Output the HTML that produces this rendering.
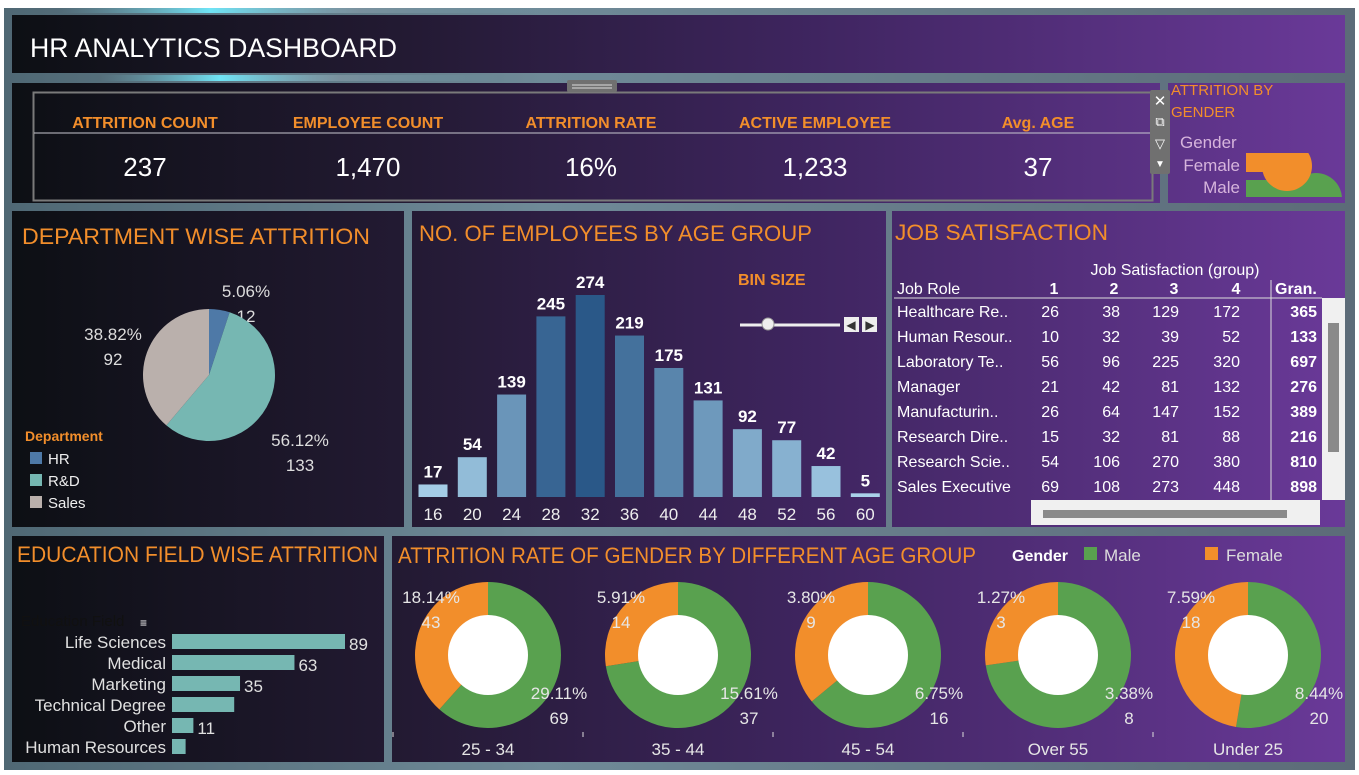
<!DOCTYPE html>
<html><head><meta charset="utf-8"><title>HR Analytics Dashboard</title>
<style>
html,body{margin:0;padding:0;width:1359px;height:775px;overflow:hidden;background:#fff;}
svg{display:block;font-family:"Liberation Sans",sans-serif;}
</style></head>
<body>
<svg id="dash" width="1359" height="775" viewBox="0 0 1359 775" xmlns="http://www.w3.org/2000/svg">
<defs>
<linearGradient id="bgG" x1="0" y1="0" x2="1" y2="0">
<stop offset="0" stop-color="#4f6874"/><stop offset="0.4" stop-color="#6f8a98"/><stop offset="1" stop-color="#5c6b78"/>
</linearGradient>
<linearGradient id="panelG" gradientUnits="userSpaceOnUse" x1="0" y1="0" x2="1359" y2="0">
<stop offset="0" stop-color="#0c0f13"/><stop offset="0.3" stop-color="#231a33"/><stop offset="0.6" stop-color="#3f2560"/><stop offset="1" stop-color="#6b3a9a"/>
</linearGradient>
<linearGradient id="cyanG" x1="0" y1="0" x2="1" y2="0">
<stop offset="0" stop-color="#6fa7b6" stop-opacity="0"/><stop offset="0.3" stop-color="#6fe4f6"/><stop offset="0.6" stop-color="#8fa3b0" stop-opacity="0.5"/><stop offset="1" stop-color="#6fa7b6" stop-opacity="0"/>
</linearGradient>
</defs>
<rect x="0" y="0" width="1359" height="775" fill="#ffffff"/>
<rect x="4" y="8" width="1351" height="762" fill="url(#bgG)"/>
<rect x="60" y="8" width="500" height="5" fill="url(#cyanG)"/>
<rect x="100" y="75" width="400" height="6" fill="url(#cyanG)"/>

<g>
<rect x="12" y="15" width="1333" height="58" fill="url(#panelG)"/>
<text x="30" y="57" fill="#ffffff" font-size="27" textLength="367" lengthAdjust="spacingAndGlyphs">HR ANALYTICS DASHBOARD</text>
</g>

<g>
<rect x="12" y="83" width="1148" height="120" fill="url(#panelG)"/>
<rect x="33.5" y="92.5" width="1119" height="108" fill="none" stroke="#7a7a7a" stroke-width="2"/>
<line x1="34" y1="133" x2="1151" y2="133" stroke="#c8c8d0" stroke-width="1"/>
<rect x="567" y="80" width="50" height="12" rx="2" fill="#707070"/>
<line x1="572" y1="85" x2="612" y2="85" stroke="#ddd"/><line x1="572" y1="88" x2="612" y2="88" stroke="#ddd"/>
<g id="kpis"></g>
</g>

<g>
<rect x="1168" y="83" width="177" height="120" fill="url(#panelG)"/>
<rect x="1150" y="90" width="20" height="84" rx="2" fill="#707070"/>
<text x="1160" y="106" fill="#fff" font-size="15" text-anchor="middle">✕</text>
<text x="1160" y="126" fill="#fff" font-size="13" text-anchor="middle">⧉</text>
<text x="1160" y="148" fill="#fff" font-size="13" text-anchor="middle">▽</text>
<text x="1160" y="167" fill="#fff" font-size="10" text-anchor="middle">▼</text>
<text x="1171" y="95" fill="#f28e2b" font-size="15">ATTRITION BY</text>
<text x="1171" y="117" fill="#f28e2b" font-size="15">GENDER</text>
<text x="1180" y="148" fill="#d6b4dc" font-size="17">Gender</text>
<text x="1240" y="171" fill="#d6b4dc" font-size="17" text-anchor="end">Female</text>
<text x="1240" y="193" fill="#d6b4dc" font-size="17" text-anchor="end">Male</text>
<clipPath id="gclip"><rect x="1168" y="153" width="177" height="44"/></clipPath>
<g clip-path="url(#gclip)">
<rect x="1246" y="180" width="70" height="17" fill="#59a14f"/>
<circle cx="1316" cy="199" r="26" fill="#59a14f"/>
<rect x="1246" y="153" width="30" height="19" fill="#f28e2b"/>
<circle cx="1287" cy="166" r="25" fill="#f28e2b"/>
</g>
</g>

<g>
<rect x="12" y="211" width="392" height="316" fill="url(#panelG)"/>
<text x="22" y="244" fill="#f28e2b" font-size="22" textLength="348" lengthAdjust="spacingAndGlyphs">DEPARTMENT WISE ATTRITION</text>
<g id="pie"></g>
<text x="25" y="441" fill="#f28e2b" font-size="14" font-weight="bold">Department</text>
<g id="pieLegend"></g>
</g>

<g>
<rect x="412" y="211" width="474" height="316" fill="url(#panelG)"/>
<text x="419" y="241" fill="#f28e2b" font-size="22" textLength="393" lengthAdjust="spacingAndGlyphs">NO. OF EMPLOYEES BY AGE GROUP</text>
<text x="738" y="285" fill="#f28e2b" font-size="16" font-weight="bold">BIN SIZE</text>
<line x1="740" y1="325" x2="840" y2="325" stroke="#eee" stroke-width="3"/>
<circle cx="768" cy="324" r="6" fill="#eee" stroke="#999"/>
<rect x="844" y="317" width="15" height="15" fill="#eee"/>
<text x="851" y="329" font-size="12" text-anchor="middle" fill="#333">◀</text>
<rect x="862" y="317" width="15" height="15" fill="#eee"/>
<text x="870" y="329" font-size="12" text-anchor="middle" fill="#333">▶</text>
<g id="ageBars"></g>
</g>

<g>
<rect x="892" y="211" width="453" height="316" fill="url(#panelG)"/>
<text x="895" y="240" fill="#f28e2b" font-size="22" textLength="213" lengthAdjust="spacingAndGlyphs">JOB SATISFACTION</text>
<text x="1175" y="275" fill="#fff" font-size="16" text-anchor="middle">Job Satisfaction (group)</text>
<text x="897" y="294" fill="#fff" font-size="16">Job Role</text>
<g id="jobTable"></g>
<line x1="894" y1="298" x2="1322" y2="298" stroke="#ddd"/>
<line x1="1271" y1="280" x2="1271" y2="500" stroke="#ddd"/>
<rect x="1322" y="298" width="23" height="202" fill="#f0f0f0"/>
<rect x="1328" y="323" width="11" height="129" fill="#8a8a8a"/>
<rect x="1031" y="500" width="289" height="25" fill="#f0f0f0"/>
<rect x="1043" y="510" width="244" height="8" fill="#8a8a8a"/>
</g>

<g>
<rect x="12" y="536" width="372" height="226" fill="url(#panelG)"/>
<text x="17" y="562" fill="#f28e2b" font-size="22" textLength="361" lengthAdjust="spacingAndGlyphs">EDUCATION FIELD WISE ATTRITION</text>
<text x="21" y="626" fill="#111" font-size="15">Education Field</text>
<text x="140" y="627" fill="#fff" font-size="12">≡</text>
<g id="eduBars"></g>
</g>

<g>
<rect x="392" y="536" width="953" height="226" fill="url(#panelG)"/>
<text x="398" y="563" fill="#f28e2b" font-size="22" textLength="578" lengthAdjust="spacingAndGlyphs">ATTRITION RATE OF GENDER BY DIFFERENT AGE GROUP</text>
<text x="1012" y="561" fill="#fff" font-size="16" font-weight="bold">Gender</text>
<rect x="1084" y="547" width="13" height="13" fill="#59a14f"/>
<text x="1104" y="561" fill="#ddd" font-size="17">Male</text>
<rect x="1205" y="547" width="13" height="13" fill="#f28e2b"/>
<text x="1226" y="561" fill="#ddd" font-size="17">Female</text>
<g id="donuts"></g>
</g>
</svg>

<script>
var NS="http://www.w3.org/2000/svg";
function mk(tag,attrs,parent,txt){var e=document.createElementNS(NS,tag);for(var k in attrs)e.setAttribute(k,attrs[k]);if(txt!==undefined)e.textContent=txt;parent.appendChild(e);return e;}

var kpiLabels=["ATTRITION COUNT","EMPLOYEE COUNT","ATTRITION RATE","ACTIVE EMPLOYEE","Avg. AGE"];
var kpiValues=["237","1,470","16%","1,233","37"];
var kpiX=[145,368,591,815,1038];
var kg=document.getElementById("kpis");
for(var i=0;i<kpiLabels.length;i++){
  var t=mk("text",{x:kpiX[i],y:128,fill:"#f28e2b","font-size":16,"font-weight":"bold","text-anchor":"middle"},kg,kpiLabels[i]);
  
  
  var v=mk("text",{x:kpiX[i],y:176,fill:"#fff","font-size":26,"text-anchor":"middle"},kg,kpiValues[i]);
  
  
}

var deptNames=["HR","R&D","Sales"];
var deptValues=[12,133,92];
var deptPct=["5.06%","56.12%","38.82%"];
var deptColors=["#4e79a7","#76b7b2","#bab0ac"];
(function(){
  var g=document.getElementById("pie"),cx=209,cy=375,r=66,tot=0;
  deptValues.forEach(function(v){tot+=v;});
  var a0=0;
  var labelPos=[[246,297],[300,446],[113,340]];
  for(var i=0;i<deptValues.length;i++){
    var a1=a0+deptValues[i]/tot*Math.PI*2;
    var x0=cx+r*Math.sin(a0),y0=cy-r*Math.cos(a0),x1=cx+r*Math.sin(a1),y1=cy-r*Math.cos(a1);
    var p=mk("path",{d:"M"+cx+","+cy+"L"+x0+","+y0+"A"+r+","+r+" 0 "+((a1-a0)>Math.PI?1:0)+" 1 "+x1+","+y1+"Z",fill:deptColors[i]},g);
    
    
    var lp=labelPos[i];
    var l=mk("text",{x:lp[0],y:lp[1],fill:"#ddd","font-size":17,"text-anchor":"middle"},g,deptPct[i]);
    
    
    mk("text",{x:lp[0],y:lp[1]+25,fill:"#ddd","font-size":17,"text-anchor":"middle"},g,deptValues[i]);
    a0=a1;
  }
  var lg=document.getElementById("pieLegend");
  for(var j=0;j<deptNames.length;j++){
    var s=mk("rect",{x:30,y:452+j*22,width:12,height:12,fill:deptColors[j]},lg);
    
    
    var lt=mk("text",{x:48,y:464+j*22,fill:"#eee","font-size":15},lg,deptNames[j]);
    
    
  }
})();

var ageBins=[16,20,24,28,32,36,40,44,48,52,56,60];
var ageCounts=[17,54,139,245,274,219,175,131,92,77,42,5];
(function(){
  var g=document.getElementById("ageBars");
  var base=497,maxV=274,maxH=202,x0=433,step=39.3,bw=29;
  function yS(v){return v/maxV*maxH;}
  function col(v){var t=v/maxV;var c1=[172,212,236],c2=[42,88,136];return "rgb("+c1.map(function(c,k){return Math.round(c+(c2[k]-c)*t);}).join(",")+")";}
  for(var i=0;i<ageBins.length;i++){
    var cx=x0+i*step,h=yS(ageCounts[i]);
    var b=mk("rect",{x:cx-bw/2,y:base-h,width:bw,height:h,fill:col(ageCounts[i])},g);
    
    
    var lt=mk("text",{x:cx,y:base-h-7,fill:"#fff","font-size":17,"font-weight":"bold","text-anchor":"middle"},g,ageCounts[i]);
    
    
    var xt=mk("text",{x:cx,y:520,fill:"#eee","font-size":17,"text-anchor":"middle"},g,ageBins[i]);
    
    
  }
})();

var jobRoles=["Healthcare Re..","Human Resour..","Laboratory Te..","Manager","Manufacturin..","Research Dire..","Research Scie..","Sales Executive"];
var jsCol1=[26,10,56,21,26,15,54,69];
var jsCol2=[38,32,96,42,64,32,106,108];
var jsCol3=[129,39,225,81,147,81,270,273];
var jsCol4=[172,52,320,132,152,88,380,448];
var jsHeaders=["1","2","3","4","Gran."];
(function(){
  var g=document.getElementById("jobTable");
  var colX=[1059,1120,1179,1240,1317];
  var hx=[1054,1114,1174,1236,1275];
  for(var h=0;h<jsHeaders.length;h++){
    var ht=mk("text",{x:hx[h],y:294,fill:"#fff","font-size":16,"font-weight":"bold","text-anchor":h<4?"middle":"start"},g,jsHeaders[h]);
    
    
  }
  for(var i=0;i<jobRoles.length;i++){
    var y=317+i*25;
    var rn=mk("text",{x:897,y:y,fill:"#fff","font-size":16},g,jobRoles[i]);
    
    
    var vals=[jsCol1[i],jsCol2[i],jsCol3[i],jsCol4[i]];
    var tot=vals[0]+vals[1]+vals[2]+vals[3];
    vals.push(tot);
    for(var c=0;c<5;c++){
      var ct=mk("text",{x:colX[c],y:y,fill:"#fff","font-size":16,"font-weight":c==4?"bold":"normal","text-anchor":"end"},g,vals[c]);
      
      
    }
  }
})();

var eduFields=["Life Sciences","Medical","Marketing","Technical Degree","Other","Human Resources"];
var eduValues=[89,63,35,32,11,7];
var eduShowLabel=[true,true,true,false,true,false];
(function(){
  var g=document.getElementById("eduBars");
  var x0=172,scale=173/89,y0=642,step=21;
  for(var i=0;i<eduFields.length;i++){
    var cy=y0+i*step,w=eduValues[i]*scale;
    var l=mk("text",{x:166,y:cy+6,fill:"#e0e0e0","font-size":17,"text-anchor":"end"},g,eduFields[i]);
    
    
    var b=mk("rect",{x:x0,y:cy-8,width:w,height:15,fill:"#76b7b2"},g);
    
    
    if(eduShowLabel[i]){
      var v=mk("text",{x:x0+w+4,y:cy+8,fill:"#e0e0e0","font-size":17},g,eduValues[i]);
      
      
    }
  }
})();

var ageGroups=["25 - 34","35 - 44","45 - 54","Over 55","Under 25"];
var femaleCounts=[43,14,9,3,18];
var maleCounts=[69,37,16,8,20];
var femalePct=["18.14%","5.91%","3.80%","1.27%","7.59%"];
var malePct=["29.11%","15.61%","6.75%","3.38%","8.44%"];
(function(){
  var g=document.getElementById("donuts");
  var cx0=488,step=190,cy=655,R=73,r=40;
  function arc(cx,a0,a1,col){
    var x0=cx+R*Math.sin(a0),y0=cy-R*Math.cos(a0),x1=cx+R*Math.sin(a1),y1=cy-R*Math.cos(a1);
    return mk("path",{d:"M"+cx+","+cy+"L"+x0+","+y0+"A"+R+","+R+" 0 "+(Math.abs(a1-a0)>Math.PI?1:0)+" 1 "+x1+","+y1+"Z",fill:col},g);
  }
  for(var i=0;i<ageGroups.length;i++){
    var cx=cx0+i*step,tot=femaleCounts[i]+maleCounts[i];
    var fa=femaleCounts[i]/tot*Math.PI*2;
    var m=arc(cx,0,Math.PI*2-fa,"#59a14f");
    
    
    var f=arc(cx,Math.PI*2-fa,Math.PI*2,"#f28e2b");
    
    
    mk("circle",{cx:cx,cy:cy,r:r,fill:"#fff"},g);
    var ft=mk("text",{x:cx-57,y:603,fill:"#e6e6e6","font-size":17,"text-anchor":"middle"},g,femalePct[i]);
    
    
    mk("text",{x:cx-57,y:628,fill:"#e6e6e6","font-size":17,"text-anchor":"middle"},g,femaleCounts[i]);
    var mt=mk("text",{x:cx+71,y:699,fill:"#e6e6e6","font-size":17,"text-anchor":"middle"},g,malePct[i]);
    
    
    mk("text",{x:cx+71,y:724,fill:"#e6e6e6","font-size":17,"text-anchor":"middle"},g,maleCounts[i]);
    var ct=mk("text",{x:cx,y:755,fill:"#e6e6e6","font-size":17,"text-anchor":"middle"},g,ageGroups[i]);
    
    
    mk("line",{x1:cx-95,y1:732,x2:cx-95,y2:737,stroke:"#ddd"},g);
  }
})();
</script>
</body></html>
